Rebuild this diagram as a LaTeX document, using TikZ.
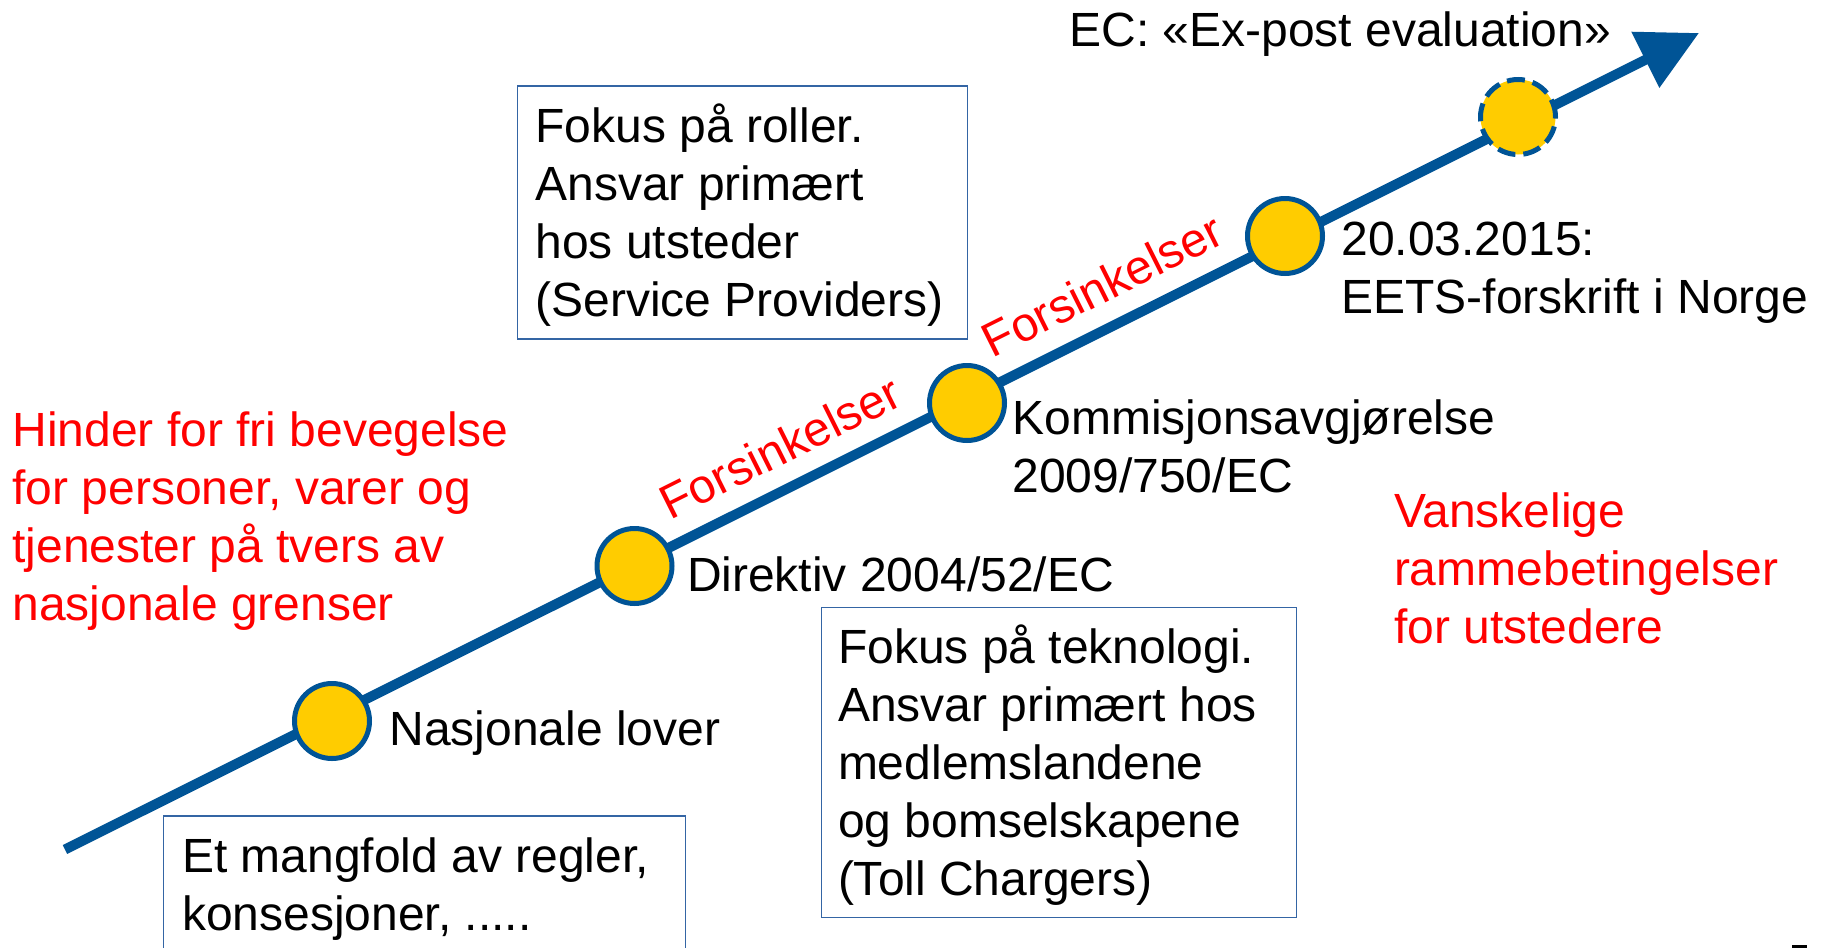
\documentclass[tikz,border=0pt]{standalone}
\usepackage{fontspec}
\setmainfont{Liberation Sans}
\usetikzlibrary{arrows.meta}
\definecolor{tlblue}{RGB}{0,84,150}
\definecolor{tlyellow}{RGB}{255,204,0}
\definecolor{boxblue}{RGB}{52,101,164}
\definecolor{tlred}{RGB}{255,0,0}
\newcommand\mlines[1]{\begin{tabular}[t]{@{}l@{}}#1\end{tabular}}
\begin{document}
\begin{tikzpicture}[x=1pt,y=-1pt,
  txt/.style={anchor=base west, inner sep=0pt, outer sep=0pt, font=\fontsize{48}{58}\selectfont},
  redtxt/.style={txt, text=tlred},
  milestone/.style={circle, draw=tlblue, fill=tlyellow, line width=5pt, minimum size=75pt, inner sep=0pt},
  infobox/.style={draw=boxblue, line width=1.5pt, anchor=north west, inner sep=0pt, fill=white},
  delay/.style={text=tlred, font=\fontsize{48}{58}\selectfont, rotate=26.55, inner sep=0pt}
]
\useasboundingbox (0,0) rectangle (1824,948);
\fill[white] (0,0) rectangle (1824,948);

% timeline
\coordinate (start) at (65,849.5);
\coordinate (tip) at (1699,33);
\draw[tlblue, line width=10pt, -{Triangle[length=60pt,width=60pt]}] (start) -- (tip);

% boxes
\node[infobox, minimum width=450pt, minimum height=253pt] (boxA) at (516.7,85) {};
\node[infobox, minimum width=475pt, minimum height=310pt] (boxB) at (820.7,606.7) {};
\node[infobox, minimum width=522pt, minimum height=200pt] (boxC) at (162.7,815) {};

\node[txt] (tA) at (535.5,142) {\mlines{Fokus på roller.\\Ansvar primært\\hos utsteder\\(Service Providers)}};
\node[txt] (tB) at (838,663) {\mlines{Fokus på teknologi.\\Ansvar primært hos\\medlemslandene\\og bomselskapene\\(Toll Chargers)}};
\node[txt] (tC) at (182,872) {\mlines{Et mangfold av regler,\\konsesjoner, .....}};

% milestones
\node[milestone] (m1) at (332,721) {};
\node[milestone] (m2) at (634.5,566) {};
\node[milestone] (m3) at (967,403) {};
\node[milestone] (m4) at (1285,236) {};
\node[milestone, dash pattern=on 18pt off 8pt] (m5) at (1518,117) {};

% labels
\node[txt] (l1) at (389.5,745) {Nasjonale lover};
\node[txt] (l2) at (687,591.7) {Direktiv 2004/52/EC};
\node[txt] (l3) at (1012.5,434) {\mlines{Kommisjonsavgjørelse\\2009/750/EC}};
\node[txt] (l4) at (1341.5,255) {\mlines{20.03.2015:\\EETS-forskrift i Norge}};
\node[txt] (l5) at (1069.5,46.7) {EC: «Ex-post evaluation»};

% red texts
\node[redtxt] (r1) at (12.5,446.7) {\mlines{Hinder for fri bevegelse\\for personer, varer og\\tjenester på tvers av\\nasjonale grenser}};
\node[redtxt] (r2) at (1394,527) {\mlines{Vanskelige\\rammebetingelser\\for utstedere}};
\node[delay] (d1) at (780,447) {Forsinkelser};
\node[delay] (d2) at (1102,285) {Forsinkelser};

% small mark
\node[fill=black, inner sep=0pt, minimum width=15pt, minimum height=3pt, anchor=south west] (mark) at (1792,948) {};
\end{tikzpicture}
\end{document}
